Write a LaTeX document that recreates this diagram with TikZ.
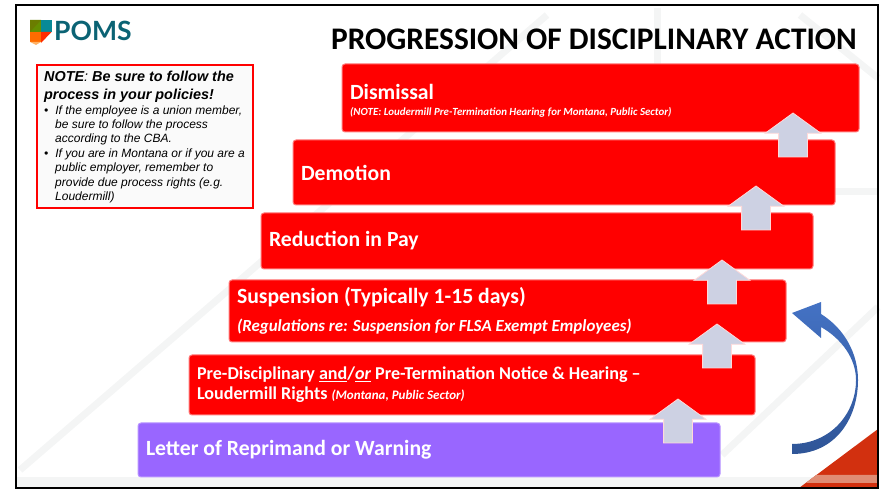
\documentclass[tikz,border=0pt]{standalone}
\usepackage{fontspec}
\setmainfont{Carlito}
\newfontfamily\notefont{Liberation Sans}
\newfontfamily\titlefont{Carlito}
\newfontfamily\logofont{Lato}
\usetikzlibrary{shapes.arrows}
\definecolor{pomsteal}{HTML}{0B6374}
\definecolor{stepred}{HTML}{FF0000}
\definecolor{steppurple}{HTML}{9966FF}
\definecolor{stepedge}{HTML}{FF7A7A}
\definecolor{arrowfill}{HTML}{CDD1E3}
\definecolor{markfaint}{HTML}{F4F5F5}
\definecolor{cornerred}{HTML}{D2300F}
\definecolor{cornerband}{HTML}{E08C74}
\definecolor{bendtop}{HTML}{4472C4}
\definecolor{bendbot}{HTML}{2F5597}

\begin{document}
\begin{tikzpicture}[x=1pt,y=1pt,
	stepbox/.style={rectangle,rounded corners=3pt,draw=stepedge,fill=stepred,line width=1pt,inner sep=0pt,inner xsep=8pt,align=flush left,text=white,font=\bfseries\fontsize{21.7}{26}\selectfont},
	uparrow/.style={single arrow,shape border rotate=90,anchor=tip,draw=white!85!red,fill=arrowfill,line width=.8pt,inner sep=14pt,outer sep=0pt,minimum height=44pt,single arrow head extend=13.5pt,single arrow tip angle=108},
	faintline/.style={draw=markfaint,line width=7pt}]
\useasboundingbox (0,0) rectangle (882,489);
% faint slide background
\path[faintline] (20,19) -- (547,474);
\path[faintline] (722,34) -- (878,182);
\path[faintline] (800,474) -- (878,411);
\path[faintline] (657,425) -- (657,481);
\path[faintline] (835,297) -- (878,297);
\fill[markfaint] (16,2) rectangle (878,12);
\fill[cornerred] (799,1) -- (878,60) -- (878,1) -- cycle;
\fill[cornerband] (806,6) -- (878,6) -- (878,14) -- (816,14) -- cycle;
\draw[black,line width=2pt] (16,1) rectangle (878,484);
% logo and title
\fill[black!40!green!60!orange] (30,469) -- (41,469) -- (41,457) -- (30,457) -- cycle;
\fill[green!40!orange!70!black] (30,469) -- (41,469) -- (30,457) -- cycle;
\fill[pomsteal!75!cyan] (41,469) -- (51.5,469) -- (51.5,457) -- (41,457) -- cycle;
\fill[orange!85!red] (30,457) -- (41,457) -- (41,447) -- (30,447) -- cycle;
\fill[red!65!orange] (41,457) -- (51.5,457) -- (41,446) -- cycle;
\fill[orange!60!white] (30,447) -- (41,447) -- (36,444) -- cycle;
\node[anchor=west,inner sep=0pt,text=pomsteal,font=\logofont\bfseries\fontsize{26.5}{27}\selectfont] (logo) at (54,458) {POMS};
\node[anchor=east,inner sep=0pt,font=\titlefont\bfseries\fontsize{31.4}{32}\selectfont] (title) at (857,450) {PROGRESSION OF DISCIPLINARY ACTION};
% note box
\node[anchor=north west,rectangle,draw=red,fill=black!2,line width=2pt,minimum width=216pt,minimum height=143pt,inner sep=0pt] (note) at (36,425) {};
\node[anchor=north west,text width=206pt,inner sep=0pt,align=flush left,font=\notefont\itshape] (notetext) at (44,418) {%
{\fontsize{14.4}{18}\selectfont\bfseries NOTE\mdseries: \bfseries Be sure to follow the\\process in your policies!\par}
{\fontsize{12}{14.4}\selectfont
\textbullet\hspace{7pt}If the employee is a union member,\\
\hspace*{11pt}be sure to follow the process\\
\hspace*{11pt}according to the CBA.\\
\textbullet\hspace{7pt}If you are in Montana or if you are a\\
\hspace*{11pt}public employer, remember to\\
\hspace*{11pt}provide due process rights (e.g.\\
\hspace*{11pt}Loudermill)\par}};
% steps
\node[stepbox,text width=501pt,minimum height=68pt] (dismissal) at (600.5,391) {\rule{0pt}{21pt}Dismissal\\[-10pt]{\itshape\fontsize{10.9}{12}\selectfont (NOTE: Loudermill Pre-Termination Hearing for Montana, Public Sector)}};
\node[stepbox,below of=dismissal,text width=526pt,minimum height=65pt,node distance=74.5pt,xshift=-36.5pt] (demotion) {Demotion};
\node[stepbox,below of=demotion,text width=536pt,minimum height=56pt,node distance=68.5pt,xshift=-27pt] (reduction) {Reduction in Pay};
\node[stepbox,below of=reduction,text width=541pt,minimum height=62pt,node distance=70pt,xshift=-29.5pt] (suspension) {Suspension (Typically 1-15 days)\\[2pt]{\itshape\fontsize{16.9}{19}\selectfont (Regulations re: Suspension for FLSA Exempt Employees)}};
\node[stepbox,below of=suspension,text width=550pt,minimum height=60pt,node distance=74pt,xshift=-35.5pt,font=\bfseries\fontsize{18.1}{20}\selectfont] (hearing) {Pre-Disciplinary \underline{and}/\underline{\itshape or} Pre-Termination Notice \& Hearing --\\Loudermill Rights {\itshape\fontsize{13}{14}\selectfont (Montana, Public Sector)}};
\node[stepbox,below of=hearing,text width=566pt,minimum height=54pt,node distance=65pt,xshift=-43pt,fill=steppurple,draw=steppurple!70!white] (letter) {Letter of Reprimand or Warning};
% block arrows between steps
\node[uparrow] (up5) at (678,90) {};
\node[uparrow] (up4) at (717,165) {};
\node[uparrow] (up3) at (722,229) {};
\node[uparrow] (up2) at (756,303) {};
\node[uparrow] (up1) at (793,376) {};
% return arrow
\coordinate (tailtop) at (792,45);
\coordinate (tailbot) at (792,35);
\coordinate (tip) at (792,176);
\shade[top color=bendtop,bottom color=bendbot]
  (tailbot) .. controls (835,35) and (858,70) .. (858,109)
  .. controls (858,135) and (845,160) .. (821,175)
  -- (821,187) -- (tip) -- (821,151) -- (821,162)
  .. controls (842,150) and (856,130) .. (856,109)
  .. controls (856,75) and (830,45) .. (tailtop) -- cycle;
\end{tikzpicture}
\end{document}
